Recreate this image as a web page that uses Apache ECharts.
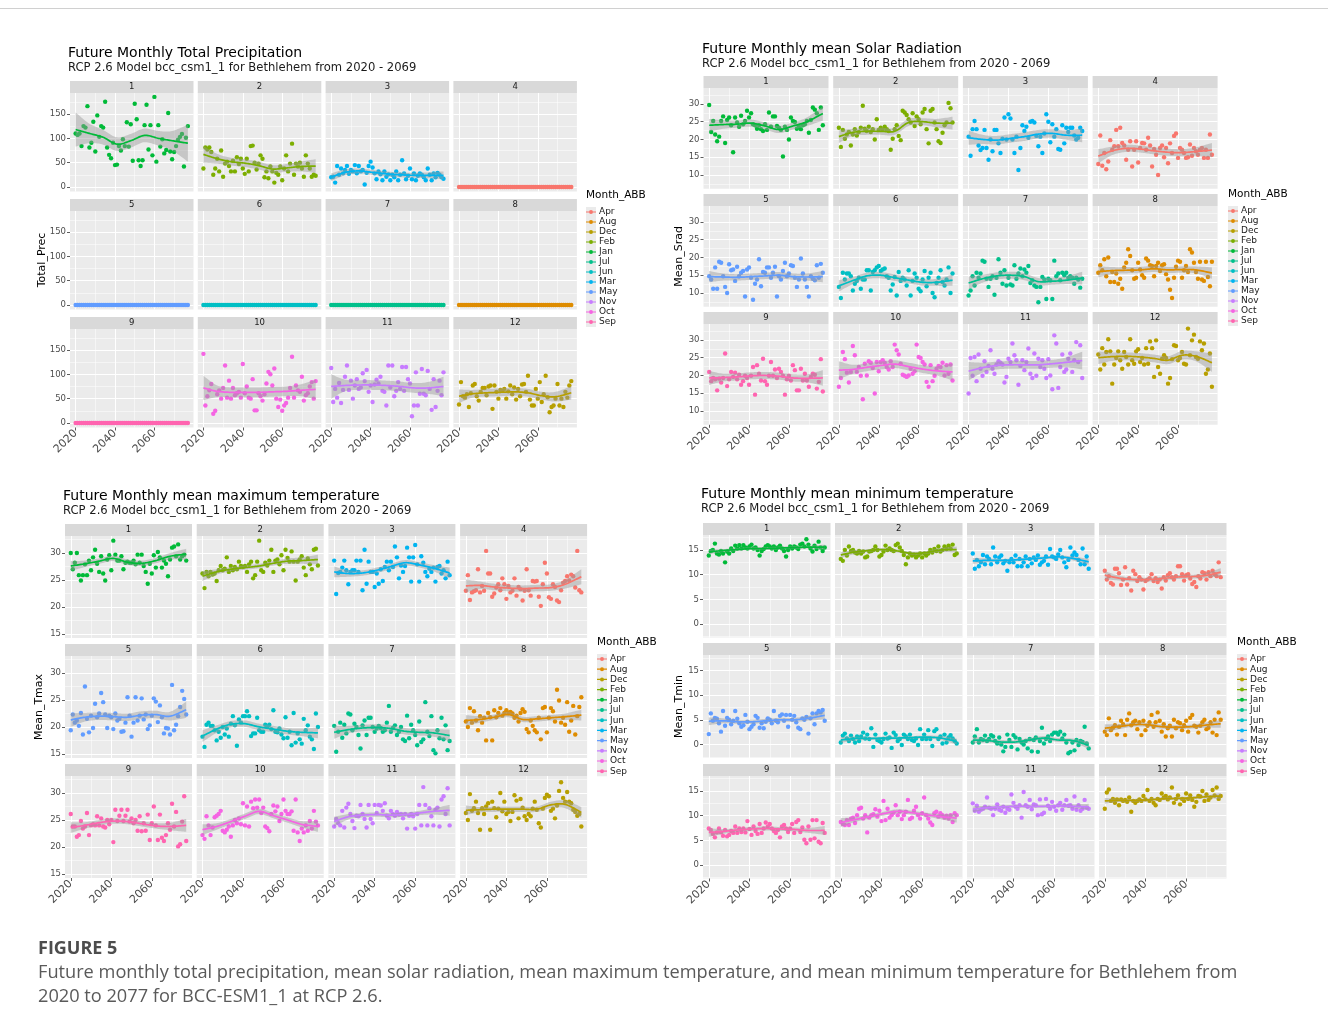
<!DOCTYPE html>
<html><head><meta charset="utf-8">
<script src="https://cdn.jsdelivr.net/npm/echarts@6/dist/echarts.min.js"></script>
<style>html,body{margin:0;padding:0;background:#fff}#c{width:1328px;height:1030px}</style>
</head><body><div id="c"></div>
<script>
// ---------------- DATA ----------------
const years = [2020,2021,2022,2023,2024,2025,2026,2027,2028,2029,2030,2031,2032,2033,2034,2035,2036,2037,2038,2039,2040,2041,2042,2043,2044,2045,2046,2047,2048,2049,2050,2051,2052,2053,2054,2055,2056,2057,2058,2059,2060,2061,2062,2063,2064,2065,2066,2067,2068,2069,2070,2071,2072,2073,2074,2075,2076,2077];
const knotYears = [2020,2027,2034,2041,2048,2055,2062,2069,2077];
const monthNames = ['Jan','Feb','Mar','Apr','May','Jun','Jul','Aug','Sep','Oct','Nov','Dec'];
const monthColors = ['#00BA38','#7CAE00','#00B4F0','#F8766D','#619CFF','#00BFC4','#00C08B','#DE8C00','#FF64B0','#F564E3','#C77CFF','#B79F00'];
const legendOrder = ['Apr','Aug','Dec','Feb','Jan','Jul','Jun','Mar','May','Nov','Oct','Sep'];
const facetLabels = ['1','2','3','4','5','6','7','8','9','10','11','12'];
const xTicks = [2020,2040,2060];
const xMinor = [2030,2050,2070];
const precTicks = [0,50,100,150];
const precMinor = [25,75,125,175];
const sradTicks = [10,15,20,25,30];
const sradMinor = [7.5,12.5,17.5,22.5,27.5,32.5];
const tmaxTicks = [15,20,25,30];
const tmaxMinor = [17.5,22.5,27.5,32.5];
const tminTicks = [0,5,10,15];
const tminMinor = [-2.5,2.5,7.5,12.5,17.5];

// Total precipitation (mm)
const P1 = [110,107,110,84,125,122,166,81,91,134,73,147,103,125,122,175,81,66,59,91,45,46,84,75,98,84,133,83,129,54,171,139,55,43,55,127,169,77,127,65,185,52,127,83,98,69,76,152,73,57,72,84,97,103,109,42,101,125];
const P2 = [38,81,77,81,72,25,38,58,32,75,21,48,52,43,32,54,32,61,47,58,38,27,58,32,84,85,50,36,48,65,58,20,32,18,42,32,9,29,25,42,14,38,65,32,48,89,25,48,42,50,38,21,65,48,38,21,25,23];
const P3 = [20,21,9,43,25,38,28,35,43,27,35,32,45,28,43,32,35,5,29,43,52,40,28,16,32,26,14,32,21,26,14,25,20,32,14,25,55,28,16,23,38,16,28,14,23,28,25,20,14,38,25,14,28,20,29,25,20,17];
const precZero = [0,0,0,0,0,0,0,0,0,0,0,0,0,0,0,0,0,0,0,0,0,0,0,0,0,0,0,0,0,0,0,0,0,0,0,0,0,0,0,0,0,0,0,0,0,0,0,0,0,0,0,0,0,0,0,0,0,0];
const P10 = [142,36,55,67,80,19,25,59,67,50,72,118,52,87,50,72,57,61,64,52,121,61,75,52,50,90,26,26,61,55,46,59,81,105,100,77,112,50,33,48,25,36,41,52,72,136,52,77,67,64,95,46,57,61,75,84,50,86];
const P11 = [113,43,70,52,82,41,68,95,118,68,87,50,77,90,70,73,102,86,109,64,77,43,79,89,81,95,66,64,36,118,73,118,55,66,84,70,115,66,115,90,81,14,36,104,36,60,111,60,57,107,70,27,90,33,66,87,57,104];
const P12 = [38,84,55,52,59,33,61,77,80,55,46,64,72,72,57,75,77,29,77,64,50,68,66,70,50,65,77,59,73,48,70,55,79,80,64,97,48,36,36,70,50,84,43,59,97,53,22,33,36,50,80,36,50,33,64,52,77,86];
const precTrend = [[118,110,102,88,95,106,100,95,90],[67,58,52,49,44,37,39,42,43],[20,30,33,30,27,25,24,24,24],[0,0,0,0,0,0,0,0,0],[0,0,0,0,0,0,0,0,0],[0,0,0,0,0,0,0,0,0],[0,0,0,0,0,0,0,0,0],[0,0,0,0,0,0,0,0,0],[0,0,0,0,0,0,0,0,0],[72,65,63,63,63,64,65,67,69],[75,77,78,78,77,75,72,72,75],[55,60,62,63,64,62,56,54,62]];
const precBand = [[35,20,15,14,14,14,15,20,38],[17,10,8,8,8,8,8,10,14],[8,6,5,5,5,5,5,6,8],[0,0,0,0,0,0,0,0,0],[0,0,0,0,0,0,0,0,0],[0,0,0,0,0,0,0,0,0],[0,0,0,0,0,0,0,0,0],[0,0,0,0,0,0,0,0,0],[0,0,0,0,0,0,0,0,0],[25,12,10,10,10,10,10,12,20],[25,12,10,10,10,10,10,12,20],[14,8,8,8,8,8,8,10,14]];

// Mean solar radiation
const S1 = [29.7,22.1,25.2,21.4,19.5,20.8,25.2,26.5,19.0,25.5,26.2,24.0,16.4,26.2,24.8,23.6,26.7,24.3,25.2,28.1,26.2,27.4,24.3,24.0,23.0,24.0,22.9,22.4,24.3,22.7,27.6,23.6,26.5,26.5,23.8,23.3,22.7,15.2,23.6,22.7,20.0,26.2,25.2,24.9,23.0,23.8,22.9,24.0,24.3,25.2,21.9,25.5,29.0,28.4,27.4,22.7,29.0,24.0];
const S2 = [23.3,17.9,22.7,20.2,21.4,22.1,18.3,21.4,22.9,21.1,22.1,23.3,29.5,23.0,22.4,23.6,22.1,22.9,20.0,25.7,22.7,23.3,22.7,23.6,22.9,22.4,17.1,20.2,22.9,24.0,21.0,19.8,28.1,27.6,26.9,25.7,24.8,27.4,23.8,26.5,25.7,24.3,27.6,28.6,22.9,18.9,28.1,28.6,24.8,22.9,19.5,19.0,21.9,24.0,24.8,30.3,28.8,24.8];
const S3 = [20.8,15.4,22.9,25.2,22.9,18.3,17.0,17.6,22.7,17.6,14.3,20.0,16.7,22.7,22.7,18.9,16.2,20.2,26.2,20.0,27.1,25.9,20.0,16.2,20.8,11.4,17.6,24.0,22.4,23.6,20.5,25.0,25.2,24.8,21.0,18.1,20.8,16.2,21.7,27.1,25.0,19.2,24.3,20.8,22.9,17.3,17.1,24.0,18.9,23.3,22.1,23.3,23.3,21.1,20.0,20.5,23.3,22.4];
const S4 = [13.1,21.1,12.6,16.2,11.6,13.8,19.8,17.1,18.1,22.7,18.1,23.3,19.0,18.3,14.3,17.1,19.5,12.4,17.1,19.5,13.5,17.6,19.0,18.9,17.1,20.5,18.3,12.4,17.3,15.7,10.0,17.6,18.3,15.0,17.6,13.3,18.9,16.2,21.0,21.7,14.8,17.6,17.1,16.2,14.8,15.0,18.6,15.4,17.6,16.7,15.7,17.1,17.6,14.8,17.1,14.8,21.4,15.7];
const S5 = [14.7,13.8,11.2,17.2,11.2,18.8,18.5,14.7,11.7,10.0,18.1,16.4,16.6,13.4,17.4,14.7,15.7,16.2,9.0,16.6,17.2,14.3,8.1,12.6,13.8,19.5,11.9,15.9,15.7,17.2,17.2,14.3,15.7,17.4,9.0,14.7,13.8,16.2,18.5,14.7,15.5,17.8,17.6,14.3,11.7,13.8,19.7,15.5,13.8,11.7,9.0,14.7,14.0,13.6,17.8,14.3,18.2,15.7];
const S6 = [11.7,8.6,15.7,13.8,15.5,15.5,14.7,10.7,12.6,13.4,14.3,11.2,13.8,13.8,16.4,16.4,10.7,15.9,16.4,17.2,17.6,16.2,16.6,16.9,14.7,14.3,10.7,12.4,14.5,9.3,15.9,13.4,14.3,13.8,12.1,16.4,9.3,13.4,15.5,14.3,11.2,10.5,13.8,16.2,11.9,14.3,15.7,10.0,8.8,12.8,14.3,16.4,13.1,12.1,13.8,17.2,10.0,15.5];
const S7 = [9.3,10.7,14.7,12.1,15.7,14.3,15.5,19.1,18.8,14.0,11.7,14.0,14.7,9.5,14.3,19.5,15.7,12.6,16.4,12.1,14.3,12.4,12.1,17.8,14.0,15.5,16.9,14.7,16.6,15.7,17.6,12.8,13.6,12.1,11.7,7.4,11.7,14.5,13.8,8.3,14.0,13.6,8.3,19.1,14.7,15.5,13.6,15.7,15.0,15.7,14.3,14.7,14.3,12.6,14.3,13.8,11.5,14.0];
const S8 = [15.7,17.8,16.4,19.5,14.7,20.0,13.1,15.9,13.1,15.5,12.6,14.0,11.2,17.2,18.5,22.3,20.4,16.4,14.0,14.3,18.5,16.6,15.0,14.3,19.7,19.1,17.8,17.6,14.7,17.6,18.5,16.2,17.8,18.1,15.3,13.8,10.9,8.6,14.3,17.4,19.1,18.8,14.3,16.4,17.6,15.9,22.3,21.4,18.5,15.9,14.0,18.8,13.8,13.4,18.8,14.5,11.9,18.8];
const S9 = [21.0,18.4,19.3,18.9,15.8,19.1,18.0,19.3,26.2,17.0,18.9,21.0,19.6,20.8,18.9,20.2,17.4,18.4,19.9,19.3,17.4,19.9,22.4,14.6,22.9,20.5,18.6,24.7,18.4,17.4,19.9,23.8,19.9,21.7,19.3,21.9,21.0,19.9,14.6,18.9,19.9,18.6,22.9,21.5,15.8,15.8,21.9,18.6,20.5,18.6,16.8,19.6,20.5,20.2,16.3,18.2,24.6,15.5];
const S10 = [16.8,19.3,26.6,24.6,20.8,18.0,21.0,28.3,25.7,21.0,22.4,19.9,13.3,23.3,20.0,24.0,23.6,22.1,14.9,23.8,21.2,23.8,24.3,23.6,22.4,21.7,24.0,22.4,28.7,27.1,25.9,23.3,20.2,19.9,19.6,20.0,21.9,20.5,21.2,28.7,25.2,24.9,23.8,23.1,18.2,16.8,22.9,18.4,19.9,21.9,22.7,22.4,23.6,20.0,22.9,20.5,23.1,18.6];
const S11 = [14.9,24.9,19.9,25.2,18.4,25.9,21.9,19.9,24.0,21.0,22.7,27.1,21.9,20.5,23.1,24.0,23.6,23.1,18.0,19.6,24.7,23.8,29.0,25.7,24.3,17.4,22.7,24.3,21.5,23.8,27.6,20.5,19.3,26.2,19.9,24.7,22.4,24.3,21.9,19.3,24.6,20.0,16.1,31.3,29.0,16.5,22.4,25.9,21.0,21.7,24.7,26.2,21.0,24.3,29.4,23.8,28.5,19.3];
const S12 = [25.9,21.7,27.7,23.1,26.6,30.2,26.8,17.7,23.1,24.9,26.8,24.3,21.9,26.6,25.2,23.1,30.2,24.3,23.3,26.8,27.4,23.8,24.9,23.1,27.7,23.3,29.6,27.7,19.6,29.9,22.4,20.5,24.7,25.7,24.9,17.7,19.3,24.6,28.5,28.3,24.3,24.9,26.6,23.3,23.1,33.2,25.7,29.9,31.5,25.2,24.7,29.6,27.1,29.0,20.5,21.7,26.2,16.8];
const sradTrend = [[24.0,24.2,24.3,24.6,23.8,22.8,23.8,25.0,27.3],[20.8,22.0,22.3,22.3,22.3,24.8,25.0,24.6,24.6],[20.5,20.0,19.8,20.3,20.8,21.5,21.7,21.2,21.2],[15.3,16.8,17.5,17.3,16.8,16.4,16.3,16.6,17.0],[14.6,14.5,14.4,14.6,14.8,15.0,14.6,14.5,14.6],[12.0,13.5,14.8,15.0,14.3,13.6,13.0,13.0,13.6],[12.8,14.0,14.8,15.0,14.6,13.2,13.3,13.6,14.2],[16.0,16.3,16.4,16.5,16.8,16.5,16.6,16.5,15.6],[19.3,19.4,19.6,19.9,20.0,19.8,19.3,19.2,19.3],[21.5,21.7,22.3,22.8,23.2,22.5,21.8,21.3,21.0],[21.2,22.2,22.8,23.0,23.0,23.0,23.3,23.7,24.2],[25.0,25.3,25.4,25.2,24.8,24.3,25.7,25.4,23.6]];
const sradBand = [[1.8,1.2,1.0,1.0,1.0,1.0,1.0,1.2,2.0],[1.8,1.0,1.0,1.0,1.0,1.0,1.0,1.2,1.8],[2.0,1.3,1.2,1.2,1.2,1.2,1.2,1.3,2.0],[2.0,1.2,1.0,1.0,1.0,1.0,1.0,1.2,2.0],[1.6,1.0,0.9,0.9,0.9,0.9,0.9,1.0,1.6],[1.6,1.0,0.9,0.9,0.9,0.9,0.9,1.0,1.6],[1.8,1.1,1.0,1.0,1.0,1.0,1.0,1.1,1.8],[1.6,1.0,0.9,0.9,0.9,0.9,0.9,1.0,1.6],[2.0,1.1,1.0,1.0,1.0,1.0,1.0,1.1,2.2],[2.5,1.3,1.1,1.1,1.1,1.1,1.1,1.3,2.4],[2.6,1.4,1.1,1.1,1.1,1.1,1.1,1.4,2.5],[1.8,1.2,1.1,1.1,1.1,1.1,1.2,1.4,2.6]];

// Mean maximum temperature
const TX1 = [30.0,27.0,28.2,30.0,25.9,24.9,25.9,27.9,25.9,28.6,26.8,29.2,30.6,28.0,26.5,29.4,26.2,24.9,28.8,29.6,26.8,32.3,29.7,28.6,28.6,29.4,27.0,28.2,28.4,28.2,28.2,28.6,27.9,29.7,28.2,29.7,27.6,26.5,24.3,28.0,26.2,29.6,27.3,30.2,29.2,27.3,28.6,28.0,25.7,28.8,31.0,31.2,29.4,31.6,28.8,29.4,29.7,28.6];
const TX2 = [26.2,23.5,26.5,25.7,26.5,26.0,26.2,24.8,26.8,27.6,26.8,27.1,29.2,26.5,27.6,26.8,27.4,27.0,28.4,27.6,27.4,27.6,26.5,27.9,28.4,25.3,25.9,28.4,32.3,26.8,26.5,28.2,27.7,28.6,30.6,26.5,28.6,28.8,27.9,29.6,26.8,30.6,29.1,28.4,30.3,28.4,24.9,28.4,28.8,29.4,27.3,25.9,29.0,27.9,27.0,30.6,30.8,27.7];
const TX3 = [28.6,22.4,26.3,26.5,27.3,28.6,26.8,24.2,26.5,26.8,26.8,28.6,26.5,28.6,23.1,30.6,24.3,28.4,26.5,26.5,23.7,26.2,24.3,27.0,24.8,27.4,28.4,26.8,28.4,27.4,31.2,29.2,25.3,27.7,26.5,27.6,31.0,29.2,24.7,29.2,31.5,27.9,24.7,29.4,28.2,26.5,25.7,27.1,26.5,27.3,24.7,27.4,27.6,26.2,26.8,25.3,28.4,25.9];
const TX4 = [23.0,25.9,21.3,22.7,22.9,23.1,27.0,22.7,23.9,23.0,30.4,26.2,26.2,21.9,22.5,23.6,24.2,23.1,25.3,24.2,21.5,23.9,22.7,23.0,25.3,22.1,23.7,23.3,21.2,23.0,27.0,23.1,22.1,24.8,24.7,24.8,21.9,20.2,24.2,28.2,26.2,21.8,21.5,24.2,23.7,21.2,20.9,23.1,24.5,24.8,25.7,24.9,26.0,25.7,23.6,30.4,23.1,22.7];
const TX5 = [19.4,22.3,20.8,21.2,20.2,22.6,18.6,27.5,21.5,19.0,22.1,19.8,24.3,21.8,22.5,26.3,24.6,22.3,19.8,22.1,21.8,19.6,22.5,21.2,21.5,19.1,19.2,20.8,25.5,22.1,18.2,20.8,25.5,21.2,22.1,25.3,21.4,22.3,19.6,20.3,22.1,25.3,24.7,20.9,24.0,21.8,18.8,19.8,19.7,18.6,27.8,19.4,20.4,22.0,23.7,26.7,25.2,22.3];
const TX6 = [18.2,16.3,20.4,20.8,20.2,20.2,19.4,17.5,19.1,18.0,20.0,18.6,19.7,18.2,20.6,22.0,20.3,16.5,21.4,20.8,22.0,22.0,22.9,22.0,18.3,18.8,18.8,21.7,19.4,19.1,19.1,20.4,20.0,20.4,19.6,23.1,19.1,19.0,19.7,18.6,17.9,21.8,18.0,19.1,16.6,22.6,17.1,18.8,17.7,16.9,21.5,19.4,20.3,18.2,17.7,15.9,22.5,20.0];
const TX7 = [20.2,15.4,19.1,20.8,18.0,20.4,18.8,22.5,22.3,19.4,20.6,20.0,18.5,16.0,20.3,21.2,18.5,21.7,21.7,20.0,19.1,19.7,20.2,19.8,19.1,19.4,20.8,23.9,19.1,19.8,20.3,18.5,19.1,20.0,17.7,17.4,22.1,17.9,20.4,19.4,18.5,16.6,21.0,17.2,17.7,24.6,19.1,18.3,22.0,15.7,15.1,19.4,17.9,21.7,17.7,20.3,15.7,17.4];
const TX8 = [21.0,20.0,23.5,20.8,22.9,21.2,19.4,22.0,20.8,21.7,17.5,22.6,21.8,17.5,23.1,21.8,22.6,23.5,22.1,22.6,23.1,22.6,22.8,22.5,21.7,22.1,21.0,22.6,23.3,22.8,19.6,19.0,21.2,20.2,19.4,19.0,21.7,17.7,23.5,23.7,19.0,21.7,23.5,22.9,21.0,26.9,24.9,20.8,21.7,20.4,24.6,19.1,21.2,23.9,18.6,22.0,23.7,25.5];
const TX9 = [26.1,23.8,23.8,21.9,22.2,24.8,23.4,23.8,26.3,22.2,24.0,24.2,24.0,25.7,24.0,25.3,23.8,23.6,25.0,24.2,25.0,20.9,26.9,24.8,25.8,26.9,24.8,25.8,26.9,24.7,25.3,24.4,25.0,23.0,25.7,22.9,24.4,23.0,26.0,21.3,24.4,27.5,24.0,21.3,26.0,21.7,21.1,22.2,24.4,23.2,28.0,23.8,26.5,20.1,20.5,24.7,29.4,21.1];
const TX10 = [22.2,21.5,25.7,24.0,22.2,23.6,25.5,25.8,26.1,26.7,23.0,22.7,23.2,23.8,21.9,24.0,25.0,24.4,25.3,24.2,28.1,24.0,27.5,23.8,28.4,27.2,28.8,27.3,28.8,26.3,27.3,23.8,23.5,22.9,26.1,27.7,26.6,27.5,24.8,26.1,28.8,26.7,26.1,26.1,26.6,23.0,28.8,22.7,21.1,23.4,22.7,24.0,23.0,24.8,23.4,26.7,24.7,24.0];
const TX11 = [23.8,25.2,24.4,24.0,26.7,23.6,27.3,28.0,26.1,24.8,23.5,25.8,25.7,27.8,26.1,25.2,23.6,27.8,25.2,24.4,27.8,26.3,27.8,27.7,26.7,28.1,25.8,25.3,26.7,26.1,25.8,26.5,26.0,26.1,25.3,26.1,23.4,25.8,26.1,25.7,23.4,26.1,27.8,24.0,31.1,27.8,24.0,27.2,25.7,24.0,26.9,27.3,23.8,28.8,29.4,26.1,30.9,24.0];
const TX12 = [26.3,25.0,29.8,26.7,27.2,28.4,26.3,23.2,27.2,26.1,27.5,28.1,23.2,28.4,27.2,25.5,27.1,30.0,26.6,28.4,26.1,26.5,24.8,26.5,29.6,28.6,25.3,28.9,27.3,25.7,25.0,26.1,25.7,27.1,28.4,26.9,24.4,23.6,27.1,29.1,29.7,29.4,26.7,27.1,25.3,27.7,30.4,32.0,29.1,28.4,30.2,28.4,28.1,26.9,26.5,25.8,26.1,23.8];
const tmaxTrend = [[27.6,28.0,28.5,29.0,28.3,28.1,28.6,29.4,29.8],[25.7,26.5,27.0,27.3,27.6,28.1,28.5,28.6,28.8],[26.5,26.2,26.3,26.8,27.5,28.2,27.8,27.2,26.3],[23.9,24.0,23.7,23.5,23.4,23.5,23.6,24.2,25.6],[21.3,21.8,22.0,21.9,21.8,22.2,22.3,22.0,23.2],[18.3,19.6,20.5,20.6,20.0,19.6,19.2,19.0,18.9],[19.0,19.5,19.8,19.9,19.7,19.2,19.0,18.9,18.4],[21.2,21.4,21.8,22.3,21.4,21.5,21.7,21.9,22.2],[23.6,24.0,24.5,24.8,24.7,24.3,23.9,23.8,24.0],[23.2,23.8,24.7,25.7,26.6,25.8,25.0,24.2,23.8],[24.7,25.6,25.9,26.0,25.9,26.0,26.3,26.6,26.8],[26.8,26.9,27.0,27.0,27.0,27.0,27.8,27.9,26.4]];
const tmaxBand = [[0.9,0.6,0.5,0.5,0.5,0.5,0.5,0.6,1.0],[0.9,0.5,0.4,0.4,0.4,0.4,0.5,0.6,0.9],[1.0,0.6,0.5,0.5,0.5,0.5,0.5,0.6,1.0],[1.2,0.7,0.6,0.6,0.6,0.6,0.6,0.8,1.4],[1.3,0.8,0.7,0.7,0.7,0.7,0.7,0.8,1.5],[1.1,0.7,0.6,0.6,0.6,0.6,0.6,0.7,1.0],[1.2,0.7,0.6,0.6,0.6,0.6,0.6,0.7,1.1],[1.0,0.6,0.5,0.5,0.5,0.5,0.5,0.6,1.0],[1.0,0.6,0.5,0.5,0.5,0.5,0.5,0.7,1.2],[1.0,0.6,0.5,0.5,0.5,0.5,0.5,0.6,1.0],[0.9,0.5,0.4,0.4,0.4,0.4,0.4,0.6,1.0],[0.9,0.5,0.5,0.5,0.5,0.5,0.6,0.7,1.0]];

// Mean minimum temperature
const TN1 = [13.9,14.8,15.0,16.3,14.3,14.1,14.8,14.3,12.5,14.7,14.3,15.3,14.8,15.9,15.3,16.0,15.3,16.0,15.5,15.3,15.7,16.1,15.3,15.5,15.0,13.9,14.8,15.2,15.7,16.0,15.7,15.3,15.7,15.0,15.5,15.9,15.3,14.8,13.7,15.0,15.7,15.3,15.7,15.5,15.2,16.1,16.3,15.7,17.2,16.1,15.3,14.7,15.9,15.2,16.7,15.5,14.8,15.5];
const TN2 = [13.2,12.8,15.0,13.9,15.7,14.8,15.0,14.5,14.3,14.8,14.3,14.7,13.5,13.7,14.7,14.8,15.0,15.7,15.0,13.7,14.0,14.7,15.9,15.0,15.3,15.0,14.8,16.0,16.3,15.5,14.8,14.0,12.1,13.5,14.3,13.9,14.1,13.5,13.9,14.3,13.5,14.3,13.9,14.3,15.0,14.5,15.2,14.8,15.7,14.7,15.0,15.7,15.2,15.9,15.3,16.1,14.0,14.3];
const TN3 = [14.3,11.2,13.0,11.7,12.5,14.0,12.1,13.7,13.2,12.1,15.5,13.7,12.5,13.5,13.9,12.3,12.8,10.8,12.5,13.2,12.5,13.9,11.7,13.2,11.7,12.5,13.7,11.7,13.2,12.3,13.5,13.0,13.9,12.0,12.5,12.8,13.7,12.0,15.2,13.7,13.5,13.2,14.1,15.0,13.5,12.5,11.5,13.0,15.5,13.9,14.5,14.0,13.0,12.1,15.3,12.1,13.7,11.2];
const TN4 = [10.8,9.0,9.7,8.3,8.0,11.2,11.2,10.3,7.9,9.0,11.5,8.0,9.3,6.8,10.8,10.1,8.7,9.5,9.0,7.0,8.7,9.0,9.3,10.1,8.7,9.3,8.5,9.0,7.2,9.5,8.8,9.9,10.3,9.5,9.0,9.7,11.7,11.7,10.1,8.8,9.9,10.1,9.2,8.1,8.5,7.5,9.7,9.2,10.5,10.3,9.0,10.5,9.7,10.8,10.1,9.7,12.5,9.5];
const TN5 = [2.1,6.3,4.8,5.4,5.2,4.3,2.6,6.8,3.8,5.4,5.0,4.1,4.8,6.8,5.2,4.3,3.6,3.9,6.0,4.6,3.1,3.6,4.1,5.8,5.4,3.4,4.3,3.3,4.6,5.3,5.0,4.3,6.8,4.8,4.5,5.8,6.1,4.8,6.0,3.6,6.0,5.0,5.8,4.5,3.4,3.1,5.3,5.0,5.6,2.2,5.3,6.3,4.1,6.3,6.8,6.5,7.0,4.8];
const TN6 = [0.4,1.8,2.2,1.2,0.7,1.8,1.1,0.4,1.6,0.7,1.6,2.4,1.2,2.0,1.1,3.3,-0.5,2.0,0.9,0.7,0.4,1.1,2.2,1.2,1.4,-0.7,2.4,1.9,0.7,1.1,-0.1,2.0,1.6,1.1,2.0,0.9,0.7,1.2,-0.1,3.1,1.1,2.0,1.1,2.9,1.1,-0.3,2.7,3.1,1.1,1.6,0.2,2.0,0.4,1.4,1.9,1.2,0.7,0.2];
const TN7 = [0.4,1.6,3.1,0.4,1.1,0.9,1.8,0.7,1.1,1.9,1.6,0.7,0.2,1.4,0.0,-1.4,-0.5,2.0,0.9,-0.5,1.9,1.4,-1.0,1.1,0.4,0.0,0.7,-0.8,1.1,-1.4,0.9,1.4,-1.5,0.7,3.4,0.2,1.1,1.6,0.7,2.0,2.4,2.4,2.0,2.6,1.2,2.0,0.4,-1.8,-1.5,0.4,-1.2,0.9,-0.1,0.7,0.5,3.6,0.2,-0.8];
const TN8 = [2.6,1.9,5.3,2.9,3.4,3.9,2.0,3.6,4.8,4.1,1.9,5.0,6.3,3.9,4.5,4.8,3.1,4.5,1.9,4.8,2.9,3.8,4.5,6.0,3.6,4.5,6.5,4.8,2.6,4.1,1.6,3.3,3.8,1.6,5.0,3.3,4.5,4.3,2.9,3.9,4.8,2.6,5.4,6.0,3.8,3.6,2.4,3.8,4.5,5.0,3.1,3.4,4.5,2.4,5.0,1.9,6.5,5.0];
const TN9 = [7.4,7.1,6.3,5.6,6.6,7.4,6.6,5.9,7.1,5.8,6.1,6.9,6.5,7.8,6.5,7.4,6.7,7.4,6.6,8.9,7.3,6.1,7.8,6.9,6.3,8.3,6.5,7.4,8.6,7.8,8.3,7.4,6.9,6.5,7.1,5.6,7.8,8.1,7.4,6.7,7.4,8.3,6.5,8.7,9.1,6.7,7.6,5.1,4.4,7.8,5.1,9.1,5.4,9.1,4.7,4.4,8.5,6.5];
const TN10 = [8.7,8.3,8.1,9.1,8.1,9.4,9.6,8.5,10.1,11.4,11.6,9.4,10.1,6.6,9.6,10.1,10.3,11.3,9.8,11.0,8.9,13.0,9.1,11.4,9.6,10.1,10.6,12.1,10.1,10.8,9.3,10.1,10.8,13.2,9.3,9.6,11.0,11.8,10.1,9.4,10.5,13.7,10.1,9.4,8.6,8.1,10.5,10.8,9.8,10.5,10.1,9.6,10.0,9.4,10.1,8.7,10.5,10.1];
const TN11 = [12.5,11.0,12.0,10.8,11.2,11.4,11.8,13.7,11.6,11.4,10.1,11.4,12.3,11.2,11.0,11.8,10.6,11.4,11.2,14.3,12.6,11.8,11.4,12.1,9.6,14.8,12.1,11.8,13.2,11.3,12.3,12.1,10.1,13.3,10.3,10.6,13.4,12.0,11.4,12.8,11.8,11.0,12.1,12.6,11.2,12.1,13.2,12.0,12.1,11.4,13.9,11.2,12.1,11.0,11.4,13.2,11.6,11.4];
const TN12 = [11.4,14.7,15.3,13.0,13.4,12.6,13.3,12.1,13.3,13.0,13.2,12.8,13.7,10.8,13.0,12.6,13.0,13.3,13.0,14.0,13.3,15.2,13.0,13.4,12.6,12.1,13.4,13.2,14.5,13.7,14.0,13.3,13.7,15.7,12.6,13.4,14.1,12.3,13.4,13.0,14.5,13.4,14.1,13.2,11.8,12.8,14.0,13.9,15.0,13.0,14.3,13.2,13.7,15.2,14.1,15.7,13.4,14.0];
const tminTrend = [[14.6,14.9,15.1,15.3,15.3,15.4,15.5,15.6,15.6],[14.0,14.6,14.9,15.1,14.8,14.3,14.5,15.0,15.1],[12.8,12.9,12.9,13.0,13.2,13.4,13.6,13.3,12.6],[9.9,9.3,9.0,9.0,9.2,9.5,9.6,9.8,10.5],[4.7,4.8,4.6,4.6,4.8,5.0,5.0,5.3,5.9],[0.9,1.2,1.2,1.3,1.3,1.4,1.5,1.3,0.6],[0.9,0.8,0.5,0.5,0.9,1.3,0.9,0.8,-0.2],[3.3,3.6,4.0,4.0,3.6,3.5,3.6,3.9,4.2],[6.6,6.8,7.1,7.3,7.4,7.3,7.2,7.0,7.0],[8.6,9.2,9.8,10.4,10.9,10.6,10.2,9.8,9.5],[11.3,11.6,11.8,11.9,11.9,11.9,12.0,11.9,11.8],[13.0,13.1,13.1,13.2,13.4,13.5,13.6,13.8,14.0]];
const tminBand = [[0.5,0.3,0.3,0.3,0.3,0.3,0.3,0.3,0.5],[0.6,0.4,0.3,0.3,0.3,0.3,0.3,0.4,0.6],[0.6,0.4,0.3,0.3,0.3,0.3,0.3,0.4,0.6],[0.8,0.5,0.4,0.4,0.4,0.4,0.4,0.5,0.8],[0.8,0.5,0.4,0.4,0.4,0.4,0.4,0.5,0.8],[0.6,0.4,0.3,0.3,0.3,0.3,0.3,0.4,0.6],[0.7,0.4,0.4,0.4,0.4,0.4,0.4,0.4,0.7],[0.8,0.5,0.4,0.4,0.4,0.4,0.4,0.5,0.8],[0.9,0.5,0.4,0.4,0.4,0.4,0.4,0.5,0.9],[0.9,0.5,0.4,0.4,0.4,0.4,0.4,0.5,0.9],[0.6,0.4,0.3,0.3,0.3,0.3,0.3,0.4,0.6],[0.6,0.3,0.3,0.3,0.3,0.3,0.3,0.3,0.6]];

const panelTitles = ['Future Monthly Total Precipitation','Future Monthly mean Solar Radiation','Future Monthly mean maximum temperature','Future Monthly mean minimum temperature'];
const subTitle = 'RCP 2.6 Model bcc_csm1_1 for Bethlehem from 2020 - 2069';
const yNames = ['Total_Prec','Mean_Srad','Mean_Tmax','Mean_Tmin'];
const legendTitle = 'Month_ABB';
const captionHead = 'FIGURE 5';
const captionLines = ['Future monthly total precipitation, mean solar radiation, mean maximum temperature, and mean minimum temperature for Bethlehem from','2020 to 2077 for BCC-ESM1_1 at RCP 2.6.'];

// ---------------- LAYOUT ----------------
const F = 'DejaVu Sans';
const X0 = 2017.15, X1 = 2079.85;
const panels = [
  {pts:[P1,P2,P3,precZero,precZero,precZero,precZero,precZero,precZero,P10,P11,P12], trend:precTrend, band:precBand,
   ymin:-9.25, ymax:194.25, ticks:precTicks, minor:precMinor,
   left:70, width:123.5, px:127.8, top:92.4, height:99.1, py:118, nameGap:22,
   tLeft:68, tTop:46, legLeft:586, legTop:207, legGap:0},
  {pts:[S1,S2,S3,S4,S5,S6,S7,S8,S9,S10,S11,S12], trend:sradTrend, band:sradBand,
   ymin:6.1, ymax:34.5, ticks:sradTicks, minor:sradMinor,
   left:703.5, width:125, px:129.7, top:88, height:100.8, py:118, nameGap:19,
   tLeft:702, tTop:42, legLeft:1228, legTop:206, legGap:0},
  {pts:[TX1,TX2,TX3,TX4,TX5,TX6,TX7,TX8,TX9,TX10,TX11,TX12], trend:tmaxTrend, band:tmaxBand,
   ymin:14.24, ymax:33.16, ticks:tmaxTicks, minor:tmaxMinor,
   left:65, width:127, px:131.7, top:536, height:102, py:120, nameGap:20,
   tLeft:63, tTop:489, legLeft:597, legTop:654, legGap:0.2},
  {pts:[TN1,TN2,TN3,TN4,TN5,TN6,TN7,TN8,TN9,TN10,TN11,TN12], trend:tminTrend, band:tminBand,
   ymin:-2.75, ymax:18.15, ticks:tminTicks, minor:tminMinor,
   left:703, width:127.5, px:132, top:534.5, height:103, py:120.5, nameGap:18,
   tLeft:701, tTop:487, legLeft:1237, legTop:654, legGap:0.2}
];

// Catmull-Rom sampling of pixel points (rendering of the smooth curve through read-off knots)
function smoothPts(pts, steps) {
  const out = [];
  for (let i = 0; i < pts.length - 1; i++) {
    const p0 = pts[i - 1] || pts[i], p1 = pts[i], p2 = pts[i + 1], p3 = pts[i + 2] || pts[i + 1];
    for (let s = 0; s < steps; s++) {
      const t = s / steps, t2 = t * t, t3 = t2 * t;
      out.push([0, 1].map(k => 0.5 * (2 * p1[k] + (-p0[k] + p2[k]) * t + (2 * p0[k] - 5 * p1[k] + 4 * p2[k] - p3[k]) * t2 + (-p0[k] + 3 * p1[k] - 3 * p2[k] + p3[k]) * t3)));
    }
  }
  out.push(pts[pts.length - 1]);
  return out;
}

const grids = [], xAxes = [], yAxes = [], series = [], titles = [], legends = [], graphics = [];
const legendIcon = 'path://M0,0h0.01v0.01h-0.01Z M0,4.4H10V5.6H0Z M7,5A2,2,0,1,1,3,5A2,2,0,1,1,7,5Z M10,10h-0.01v-0.01h0.01Z';

panels.forEach((p, pi) => {
  titles.push({text: panelTitles[pi], subtext: subTitle, left: p.tLeft, top: p.tTop, padding: 0, itemGap: 2,
    textStyle: {fontFamily: F, fontSize: 14, fontWeight: 'normal', color: '#000'},
    subtextStyle: {fontFamily: F, fontSize: 11.6, color: '#1A1A1A'}});
  titles.push({text: legendTitle, left: p.legLeft, top: p.legTop - 17, padding: 0,
    textStyle: {fontFamily: F, fontSize: 10.5, fontWeight: 'normal', color: '#000'}});
  legends.push({orient: 'vertical', left: p.legLeft, top: p.legTop, padding: 0, itemWidth: 10, itemHeight: 10,
    itemGap: p.legGap, icon: legendIcon, data: legendOrder, selectedMode: false,
    textStyle: {fontFamily: F, fontSize: 9, color: '#1A1A1A', padding: [0, 0, 0, -2]}});
  graphics.push({type: 'rect', silent: true, z: -1,
    shape: {x: p.legLeft, y: p.legTop, width: 10, height: 12 * 10 + 11 * p.legGap},
    style: {fill: '#EBEBEB'}});

  for (let f = 0; f < 12; f++) {
    const r = Math.floor(f / 4), c = f % 4;
    const gi = grids.length;
    const gLeft = p.left + c * p.px, gTop = p.top + r * p.py;
    grids.push({left: gLeft, top: gTop, width: p.width, height: p.height,
      show: true, backgroundColor: '#EBEBEB', borderWidth: 0, containLabel: false, outerBoundsMode: 'none'});
    // facet strip label
    graphics.push({type: 'text', silent: true, z: 10, x: gLeft + p.width / 2, y: gTop - 6,
      style: {text: facetLabels[f], font: '8.5px "DejaVu Sans"', fill: '#1A1A1A', align: 'center', verticalAlign: 'middle'}});
    xAxes.push({gridIndex: gi, type: 'value', min: X0, max: X1, position: 'bottom', nameMoveOverlap: false,
      axisLine: {show: false, onZero: false},
      axisTick: {show: r === 2, customValues: xTicks, length: 3, lineStyle: {color: '#333', width: 0.8}},
      axisLabel: {show: r === 2, customValues: xTicks, rotate: 45, fontFamily: F, fontSize: 11, color: '#4D4D4D', margin: 4,
        formatter: v => String(v)},
      splitLine: {show: true, lineStyle: {color: '#FFFFFF', width: 1}}});
    xAxes.push({gridIndex: gi, type: 'value', min: X0, max: X1, position: 'top', offset: 6, nameMoveOverlap: false,
      axisLine: {show: true, onZero: false, lineStyle: {color: '#D9D9D9', width: 12, cap: 'butt'}},
      axisTick: {show: false, customValues: xMinor}, axisLabel: {show: false},
      splitLine: {show: true, lineStyle: {color: '#FFFFFF', width: 0.5}}});
    yAxes.push({gridIndex: gi, type: 'value', min: p.ymin, max: p.ymax, position: 'left', nameMoveOverlap: false,
      axisLine: {show: false, onZero: false},
      axisTick: {show: c === 0, customValues: p.ticks, length: 3, lineStyle: {color: '#333', width: 0.8}},
      axisLabel: {show: c === 0, customValues: p.ticks, fontFamily: F, fontSize: 8.5, color: '#4D4D4D', margin: 4,
        formatter: v => String(v)},
      splitLine: {show: true, lineStyle: {color: '#FFFFFF', width: 1}},
      name: f === 4 ? yNames[pi] : '', nameLocation: 'middle', nameRotate: 90, nameGap: p.nameGap,
      nameTextStyle: {fontFamily: F, fontSize: 11, color: '#000'}});
    yAxes.push({gridIndex: gi, type: 'value', min: p.ymin, max: p.ymax, position: 'right', nameMoveOverlap: false,
      axisLine: {show: false, onZero: false}, axisTick: {show: false, customValues: p.minor}, axisLabel: {show: false},
      splitLine: {show: true, lineStyle: {color: '#FFFFFF', width: 0.5}}});

    const col = monthColors[f];
    const xi = 2 * gi, yi = 2 * gi;
    const pts = p.pts[f];
    series.push({type: 'scatter', name: monthNames[f], xAxisIndex: xi, yAxisIndex: yi,
      data: years.map((y, i) => [y, pts[i]]), symbol: 'circle', symbolSize: 4.4,
      itemStyle: {color: col, opacity: 1}, z: 2, silent: true});
    const tr = p.trend[f], bd = p.band[f];
    const knots = knotYears.map((y, i) => [y, tr[i], bd[i]]);
    series.push({type: 'custom', name: 'smooth', xAxisIndex: xi, yAxisIndex: yi, z: 3, silent: true, clip: true,
      data: knots, encode: {x: 0, y: 1},
      renderItem: (params, api) => {
        if (params.dataIndex !== 0) return null;
        const up = smoothPts(knots.map(k => api.coord([k[0], k[1] + k[2]])), 12);
        const lo = smoothPts(knots.map(k => api.coord([k[0], k[1] - k[2]])), 12);
        const mid = smoothPts(knots.map(k => api.coord([k[0], k[1]])), 12);
        return {type: 'group', children: [
          {type: 'polygon', shape: {points: up.concat(lo.reverse())}, style: {fill: 'rgba(153,153,153,0.45)', stroke: null}},
          {type: 'polyline', shape: {points: mid}, style: {fill: null, stroke: col, lineWidth: 1.7}}
        ]};
      }});
  }
});

// frame line and caption
graphics.push({type: 'line', silent: true, shape: {x1: 0, y1: 8.5, x2: 1328, y2: 8.5}, style: {stroke: '#D0D0D0', lineWidth: 1}});
graphics.push({type: 'text', silent: true, x: 38, y: 949, style: {text: captionHead, font: 'bold 18px "Open Sans"', fill: '#4D4D4D', verticalAlign: 'middle'}});
graphics.push({type: 'text', silent: true, x: 38, y: 973, style: {text: captionLines[0], font: '18.2px "Open Sans"', fill: '#5A5A5A', verticalAlign: 'middle'}});
graphics.push({type: 'text', silent: true, x: 38, y: 997, style: {text: captionLines[1], font: '18.2px "Open Sans"', fill: '#5A5A5A', verticalAlign: 'middle'}});

const chart = echarts.init(document.getElementById('c'), null, {renderer: 'canvas'});
chart.setOption({
  animation: false,
  backgroundColor: '#FFFFFF',
  textStyle: {fontFamily: F},
  tooltip: {show: false},
  title: titles,
  legend: legends,
  grid: grids,
  xAxis: xAxes,
  yAxis: yAxes,
  series: series,
  graphic: graphics
});
</script>
</body></html>
